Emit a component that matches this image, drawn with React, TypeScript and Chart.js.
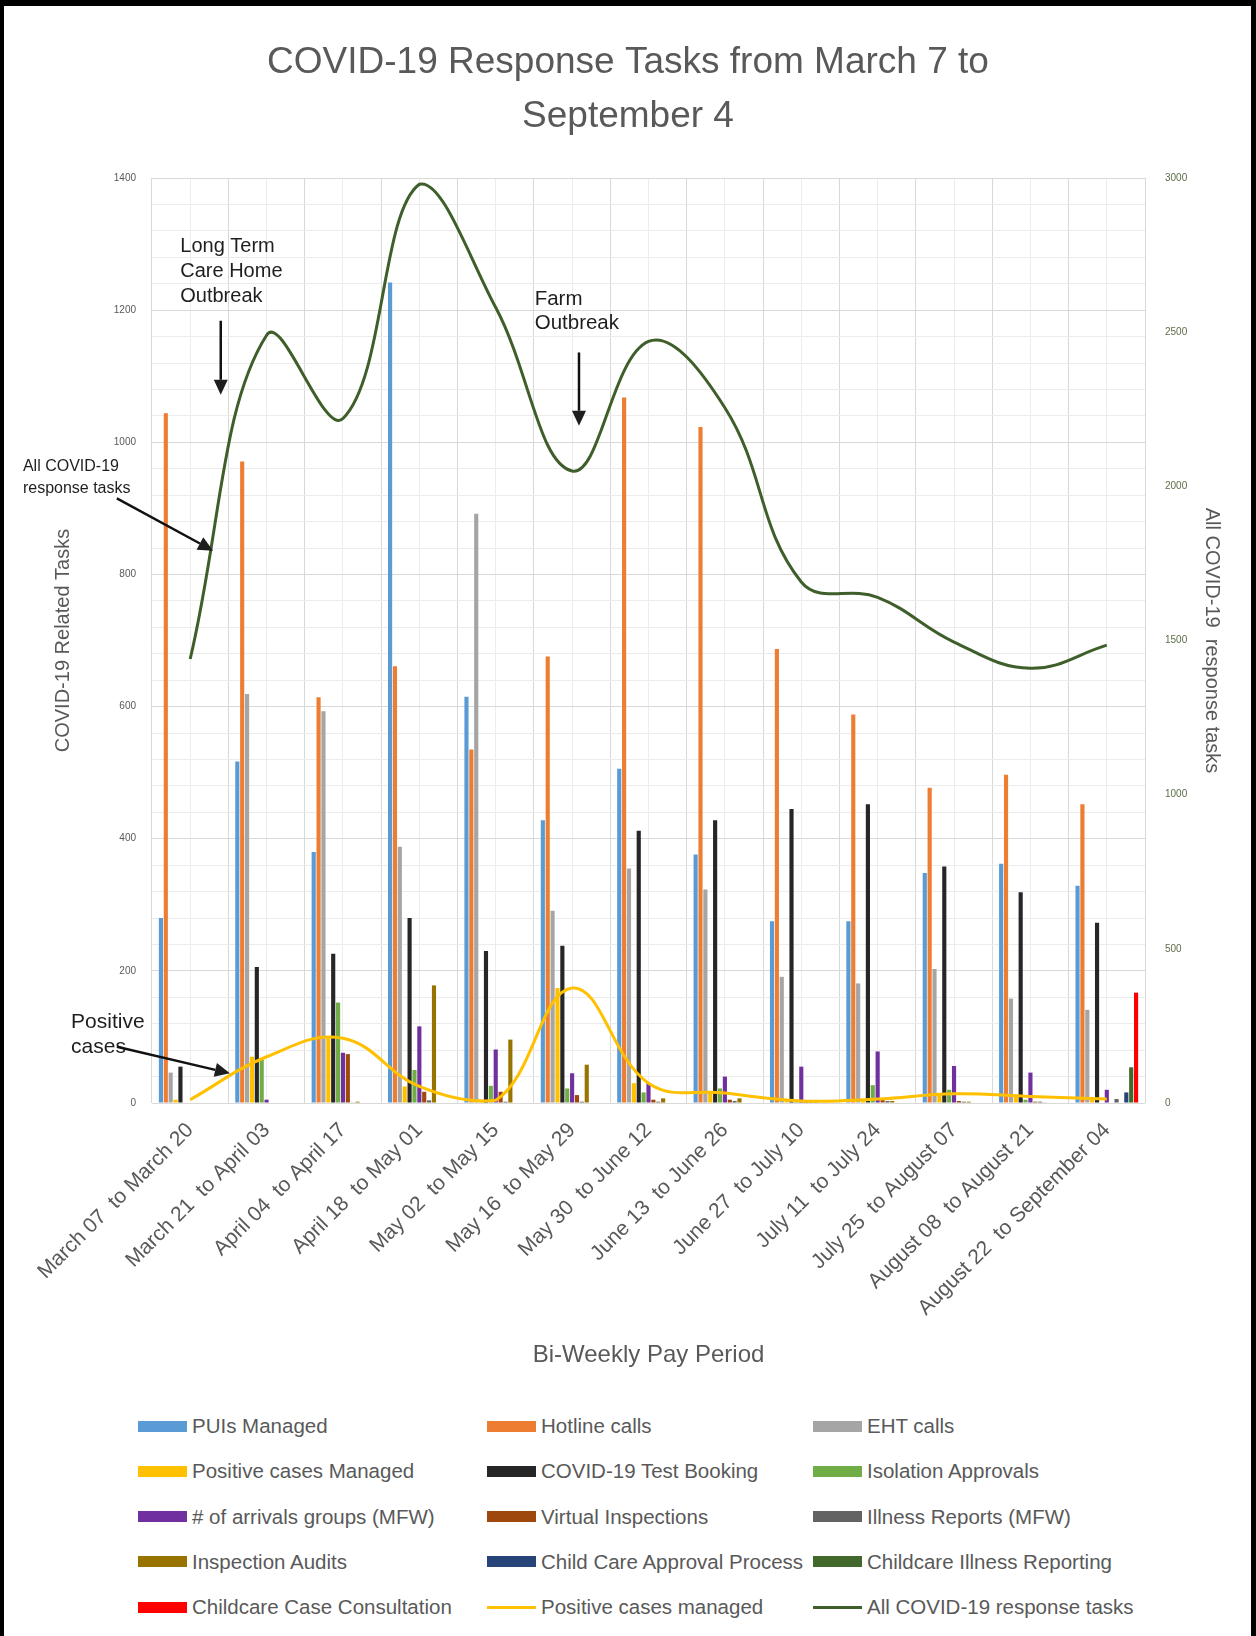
import React, { useEffect, useRef } from 'react';
import { Chart, registerables } from 'chart.js';

Chart.register(...registerables);

// ---------- data ----------
const categories = [
  'March 07  to March 20',
  'March 21  to April 03',
  'April 04  to April 17',
  'April 18  to May 01',
  'May 02  to May 15',
  'May 16  to May 29',
  'May 30  to June 12',
  'June 13  to June 26',
  'June 27  to July 10',
  'July 11  to July 24',
  'July 25  to August 07',
  'August 08  to August 21',
  'August 22  to September 04',
];

const puisManaged = [280, 517, 380, 1242, 615, 428, 506, 376, 275, 275, 348, 362, 329];
const hotlineCalls = [1044, 971, 614, 661, 535, 676, 1068, 1023, 687, 588, 477, 497, 452];
const ehtCalls = [46, 619, 593, 388, 892, 291, 355, 323, 191, 181, 203, 158, 141];
const positiveCases = [5, 70, 98, 25, 4, 174, 30, 15, 3, 6, 14, 10, 6];
const testBooking = [55, 206, 226, 280, 230, 238, 412, 428, 445, 452, 358, 319, 273];
const isolationApprovals = [0, 68, 152, 50, 26, 22, 16, 22, 5, 27, 20, 5, 0];
const arrivalGroups = [0, 5, 76, 116, 81, 45, 30, 40, 55, 78, 56, 46, 20];
const virtualInspections = [0, 0, 74, 17, 17, 12, 5, 5, 3, 5, 3, 2, 0];
const illnessReports = [0, 0, 1, 4, 2, 2, 2, 3, 2, 3, 2, 2, 6];
const inspectionAudits = [0, 0, 2, 178, 96, 58, 7, 7, 2, 3, 2, 1, 0];
const childCareApproval = [0, 0, 0, 0, 0, 0, 0, 0, 0, 0, 0, 0, 16];
const childcareIllness = [0, 0, 0, 0, 0, 0, 0, 0, 0, 0, 0, 0, 54];
const childcareConsultation = [0, 0, 0, 0, 0, 0, 0, 0, 0, 0, 0, 0, 167];
const allResponseTasks = [1440, 2490, 2220, 2980, 2580, 2050, 2470, 2255, 1690, 1640, 1495, 1410, 1485];

const leftAxisMax = 1400;
const leftMajorStep = 200;
const leftMinorStep = 40;
const rightAxisMax = 3000;
const rightStep = 500;

const titleLines = ['COVID-19 Response Tasks from March 7 to', 'September 4'];

// annotation anchors: [category position, left-axis value]
const annotations = [
  { lines: ['Long Term', 'Care Home', 'Outbreak'], at: [-0.13, 1296], size: 20, step: 25, arrow: [[0.4, 1184], [0.4, 1072]] },
  { lines: ['Farm', 'Outbreak'], at: [4.51, 1217], size: 20.5, step: 24, arrow: [[5.09, 1136], [5.09, 1025]] },
  { lines: ['All COVID-19', 'response tasks'], at: [-2.19, 964], size: 16, step: 22, arrow: [[-0.96, 915], [0.3, 836]] },
  { lines: ['Positive', 'cases'], at: [-1.56, 123], size: 21, step: 25, arrow: [[-0.96, 85], [0.52, 45]] },
];

const FONT = "'Liberation Sans', Arial, sans-serif";
const TEXT = '#595959';

const barSeries = [
  { label: 'PUIs Managed', data: puisManaged, color: '#5B9BD5' },
  { label: 'Hotline calls', data: hotlineCalls, color: '#ED7D31' },
  { label: 'EHT calls', data: ehtCalls, color: '#A5A5A5' },
  { label: 'Positive cases Managed', data: positiveCases, color: '#FFC000' },
  { label: 'COVID-19 Test Booking', data: testBooking, color: '#262626' },
  { label: 'Isolation Approvals', data: isolationApprovals, color: '#70AD47' },
  { label: '# of arrivals groups (MFW)', data: arrivalGroups, color: '#7030A0' },
  { label: 'Virtual Inspections', data: virtualInspections, color: '#9E480E' },
  { label: 'Illness Reports (MFW)', data: illnessReports, color: '#636363' },
  { label: 'Inspection Audits', data: inspectionAudits, color: '#997300' },
  { label: 'Child Care Approval Process', data: childCareApproval, color: '#264478' },
  { label: 'Childcare Illness Reporting', data: childcareIllness, color: '#43682B' },
  { label: 'Childcare Case Consultation', data: childcareConsultation, color: '#FF0000' },
];

const lineSeries = [
  { label: 'Positive cases managed', data: positiveCases, color: '#FFC000', axis: 'y', width: 3 },
  { label: 'All COVID-19 response tasks', data: allResponseTasks, color: '#3F5F2A', axis: 'y1', width: 3 },
];

const annotationPlugin = {
  id: 'annot',
  afterDraw(chart: any) {
    const { ctx, scales } = chart;
    const xs = scales.x;
    const ys = scales.y;
    const p0 = xs.getPixelForValue(0);
    const p1 = xs.getPixelForValue(1);
    const px = (pos: number) => p0 + pos * (p1 - p0);
    const py = (v: number) => ys.getPixelForValue(v);
    ctx.save();
    ctx.fillStyle = '#1e1e1e';
    ctx.strokeStyle = '#111';
    ctx.textBaseline = 'middle';
    ctx.textAlign = 'left';
    annotations.forEach((a) => {
      ctx.font = `${a.size}px ${FONT}`;
      const x = px(a.at[0]);
      const y = py(a.at[1]);
      a.lines.forEach((ln, i) => ctx.fillText(ln, x, y + i * a.step));
      const [s, e] = a.arrow;
      const x1 = px(s[0]), y1 = py(s[1]), x2 = px(e[0]), y2 = py(e[1]);
      const ang = Math.atan2(y2 - y1, x2 - x1);
      const hl = 15, hw = 7;
      const bx = x2 - hl * Math.cos(ang), by = y2 - hl * Math.sin(ang);
      ctx.lineWidth = 2.5;
      ctx.beginPath();
      ctx.moveTo(x1, y1);
      ctx.lineTo(bx, by);
      ctx.stroke();
      ctx.beginPath();
      ctx.moveTo(x2, y2);
      ctx.lineTo(bx + hw * Math.sin(ang), by - hw * Math.cos(ang));
      ctx.lineTo(bx - hw * Math.sin(ang), by + hw * Math.cos(ang));
      ctx.closePath();
      ctx.fill();
    });
    ctx.restore();
  },
};

export default function App() {
  const ref = useRef<HTMLCanvasElement>(null);

  useEffect(() => {
    document.body.style.margin = '0';
    Chart.defaults.font.family = FONT;
    const datasets: any[] = [
      ...barSeries.map((s) => ({
        type: 'bar',
        label: s.label,
        data: s.data,
        backgroundColor: s.color,
        borderWidth: 0,
        yAxisID: 'y',
        barPercentage: 0.85,
        categoryPercentage: 0.83,
        order: 1,
      })),
      ...lineSeries.map((s) => ({
        type: 'line',
        label: s.label,
        data: s.data,
        borderColor: s.color,
        backgroundColor: s.color,
        borderWidth: s.width,
        pointRadius: 0,
        tension: 0.4,
        fill: false,
        yAxisID: s.axis,
        order: 0,
      })),
    ];
    const chart = new Chart(ref.current as HTMLCanvasElement, {
      type: 'bar',
      data: { labels: categories, datasets },
      options: {
        responsive: false,
        animation: false,
        layout: { padding: 0, autoPadding: false },
        plugins: {
          legend: { display: false },
          tooltip: { enabled: false },
          title: {
            display: true,
            text: titleLines,
            color: TEXT,
            font: { size: 37, weight: 'normal', lineHeight: 1.46 },
            padding: { top: 36, bottom: 34 },
          },
        },
        scales: {
          x: {
            type: 'category',
            position: 'bottom',
            offset: true,
            grid: { offset: true, color: '#d9d9d9', drawTicks: false },
            border: { display: false },
            ticks: { autoSkip: false, minRotation: 45, maxRotation: 45, color: TEXT, font: { size: 21 }, padding: 15 },
            title: { display: true, text: 'Bi-Weekly Pay Period', color: TEXT, font: { size: 24 }, padding: { top: 0, bottom: 25 } },
            afterFit: (s: any) => { s.height = 292; },
          },
          x2: {
            type: 'category',
            labels: categories,
            position: 'bottom',
            offset: true,
            grid: { offset: false, color: '#ececec', drawTicks: false },
            border: { display: false },
            ticks: { display: false },
            afterFit: (s: any) => { s.height = 0; },
          },
          y: {
            type: 'linear',
            position: 'left',
            min: 0,
            max: leftAxisMax,
            grid: {
              drawTicks: false,
              color: (c: any) => (c.tick && c.tick.value % leftMajorStep === 0 ? '#d9d9d9' : '#ececec'),
            },
            border: { display: false },
            ticks: {
              stepSize: leftMinorStep,
              maxTicksLimit: 100,
              autoSkip: false,
              color: TEXT,
              font: { size: 10 },
              padding: 16,
              callback: (v: any) => (Number(v) % leftMajorStep === 0 ? String(v) : ''),
            },
            title: { display: true, text: 'COVID-19 Related Tasks', color: TEXT, font: { size: 20 }, padding: { top: 51, bottom: 0 } },
            afterFit: (s: any) => { s.width = 152; },
          },
          y1: {
            type: 'linear',
            position: 'right',
            min: 0,
            max: rightAxisMax,
            grid: { display: false, drawTicks: false },
            border: { display: false },
            ticks: { stepSize: rightStep, color: '#5E6E48', font: { size: 10 }, padding: 20, callback: (v: any) => String(v) },
            title: { display: true, text: 'All COVID-19  response tasks', color: TEXT, font: { size: 20 }, padding: { top: 32, bottom: 0 } },
            afterFit: (s: any) => { s.width = 111; },
          },
        },
      } as any,
      plugins: [annotationPlugin],
    });
    return () => chart.destroy();
  }, []);

  const legendItems = [
    ...barSeries.map((s) => ({ label: s.label, color: s.color, line: false })),
    ...lineSeries.map((s) => ({ label: s.label, color: s.color, line: true })),
  ];
  const colLeft = [138, 487, 813];

  return (
    <div style={{ position: 'relative', width: 1256, height: 1636, background: '#fff', overflow: 'hidden' }}>
      <canvas ref={ref} width={1256} height={1395} style={{ position: 'absolute', left: 0, top: 0 }} />
      {legendItems.map((it, i) => {
        const col = i % 3;
        const row = Math.floor(i / 3);
        return (
          <div
            key={it.label}
            style={{
              position: 'absolute',
              left: colLeft[col],
              top: 1426 + row * 45.3 - 14,
              height: 28,
              display: 'flex',
              alignItems: 'center',
              fontFamily: FONT,
              fontSize: 20.5,
              color: TEXT,
              whiteSpace: 'nowrap',
            }}
          >
            <span
              style={{
                display: 'inline-block',
                width: 49,
                height: it.line ? 3 : 11,
                background: it.color,
                marginRight: 5,
              }}
            />
            {it.label}
          </div>
        );
      })}
      <div
        style={{
          position: 'absolute',
          left: 0,
          top: 0,
          width: 1256,
          height: 1636,
          boxSizing: 'border-box',
          borderTop: '6px solid #000',
          borderLeft: '4px solid #000',
          borderRight: '5px solid #000',
          pointerEvents: 'none',
        }}
      />
    </div>
  );
}
